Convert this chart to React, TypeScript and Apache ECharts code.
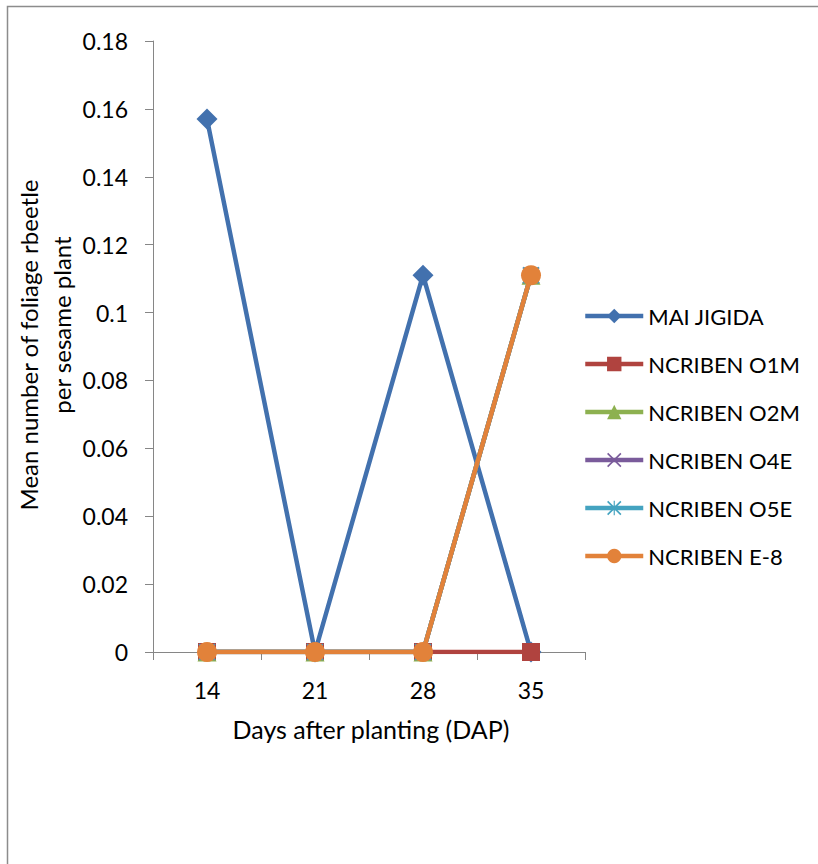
import React, { useEffect, useRef } from "react";
import * as echarts from "echarts";

const days = ["14", "21", "28", "35"];
const seriesNames = [
  "MAI JIGIDA",
  "NCRIBEN O1M",
  "NCRIBEN O2M",
  "NCRIBEN O4E",
  "NCRIBEN O5E",
  "NCRIBEN E-8",
];
const maiJigida = [0.157, 0, 0.111, 0];
const o1m = [0, 0, 0, 0];
const o2m = [0, 0, 0, 0.111];
const o4e = [0, 0, 0, 0.111];
const o5e = [0, 0, 0, 0.111];
const e8 = [0, 0, 0, 0.111];

const colors = ["#4271AE", "#B0433F", "#8DB150", "#7A5B9B", "#44A3C0", "#E2823A"];

const crossPath =
  "path://M0,0.08 L0.08,0 L0.5,0.42 L0.92,0 L1,0.08 L0.58,0.5 L1,0.92 L0.92,1 L0.5,0.58 L0.08,1 L0,0.92 L0.42,0.5 Z";
const starPath =
  "path://M0,0.08 L0.08,0 L0.5,0.42 L0.92,0 L1,0.08 L0.58,0.5 L1,0.92 L0.92,1 L0.5,0.58 L0.08,1 L0,0.92 L0.42,0.5 Z M0.46,0 L0.54,0 L0.54,1 L0.46,1 Z";

const symbols = ["diamond", "rect", "triangle", crossPath, starPath, "circle"];
const symbolSizes = [21, 18, 19, 17, 17, 20];
const values = [maiJigida, o1m, o2m, o4e, o5e, e8];

const FONT = "Lato, 'Open Sans', sans-serif";

export default function App() {
  const ref = useRef<HTMLDivElement>(null);

  useEffect(() => {
    if (!ref.current) return;
    const chart = echarts.init(ref.current, undefined, { renderer: "svg" });
    const axisColor = "#868686";
    chart.setOption({
      animation: false,
      backgroundColor: "#ffffff",
      textStyle: { fontFamily: FONT },
      grid: { left: 153, right: 233, top: 41, bottom: 212, containLabel: false },
      xAxis: {
        type: "category",
        data: days,
        boundaryGap: true,
        axisLine: { lineStyle: { color: axisColor, width: 1 } },
        axisTick: { show: true, length: 8, lineStyle: { color: axisColor } },
        axisLabel: { color: "#000", fontSize: 23, margin: 26, fontFamily: FONT },
        splitLine: { show: false },
      },
      yAxis: {
        type: "value",
        min: 0,
        max: 0.18,
        interval: 0.02,
        axisLine: { show: true, lineStyle: { color: axisColor, width: 1 } },
        axisTick: { show: true, length: 8, lineStyle: { color: axisColor } },
        axisLabel: {
          color: "#000",
          fontSize: 23,
          margin: 25,
          fontFamily: FONT,
          formatter: (v: number) => String(parseFloat(v.toFixed(2))),
        },
        splitLine: { show: false },
      },
      legend: {
        orient: "vertical",
        left: 583,
        top: 305,
        padding: 0,
        itemWidth: 58,
        itemHeight: 18,
        itemGap: 26,
        lineStyle: { width: 4.5 },
        textStyle: {
          color: "#000",
          fontSize: 22,
          lineHeight: 22,
          fontFamily: FONT,
        },
        data: seriesNames,
      },
      graphic: [
        {
          type: "rect",
          shape: { x: 7.5, y: 6.5, width: 900, height: 900 },
          style: { fill: "none", stroke: "#8c8c8c", lineWidth: 1.5 },
          silent: true,
        },
        {
          type: "text",
          x: 28,
          y: 345,
          rotation: Math.PI / 2,
          style: {
            text: "Mean number of foliage rbeetle",
            fill: "#000",
            font: `24px ${FONT}`,
            align: "center",
            verticalAlign: "middle",
          },
        },
        {
          type: "text",
          x: 61,
          y: 325,
          rotation: Math.PI / 2,
          style: {
            text: "per sesame plant",
            fill: "#000",
            font: `24px ${FONT}`,
            align: "center",
            verticalAlign: "middle",
          },
        },
        {
          type: "text",
          x: 371,
          y: 729,
          style: {
            text: "Days after planting (DAP)",
            fill: "#000",
            font: `25px ${FONT}`,
            align: "center",
            verticalAlign: "middle",
          },
        },
      ],
      series: seriesNames.map((name, i) => ({
        name,
        type: "line",
        data: values[i],
        symbol: symbols[i],
        symbolSize: symbolSizes[i],
        showAllSymbol: true,
        lineStyle: { color: colors[i], width: 4.5 },
        itemStyle: { color: colors[i] },
        z: 2 + i,
      })),
    });
    return () => chart.dispose();
  }, []);

  return (
    <div
      ref={ref}
      style={{ position: "absolute", left: 0, top: 0, width: 818, height: 864 }}
    />
  );
}
